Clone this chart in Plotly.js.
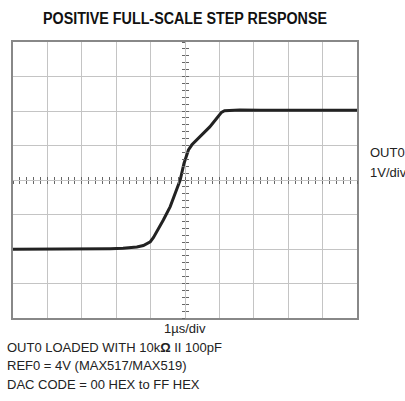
<!DOCTYPE html>
<html><head><meta charset="utf-8">
<script src="https://cdn.plot.ly/plotly-3.0.1.min.js"></script>
<style>html,body{margin:0;padding:0;background:#fff}#c{width:405px;height:401px}</style>
</head><body><div id="c"></div>
<script>
// time in divisions (1 µs/div), voltage in divisions (1 V/div), centre = 0
const timeDiv = [-5, -3.5, -2.5, -2.17, -1.8, -1.59, -1.4, -1.21, -1.1, -1.01, -0.92, -0.82, -0.63, -0.43, -0.24, -0.14, -0.03, 0.10, 0.2, 0.34, 0.52, 0.72, 0.9, 1.06, 1.15, 1.3, 1.59, 2.2, 3.5, 5];
const voltDiv = [-2.01, -2.01, -2.0, -1.99, -1.98, -1.96, -1.94, -1.90, -1.85, -1.79, -1.67, -1.50, -1.16, -0.77, -0.29, 0.0, 0.48, 0.87, 1.02, 1.16, 1.35, 1.54, 1.76, 1.96, 2.01, 2.02, 2.03, 2.02, 2.02, 2.02];
const titleText = "POSITIVE FULL-SCALE STEP RESPONSE";
const xLabel = "1µs/div";
const channelLabel = ["OUT0", "1V/div"];
const notes = ["OUT0 LOADED WITH 10k<b>Ω</b> II 100pF", "REF0 = 4V (MAX517/MAX519)", "DAC CODE = 00 HEX to FF HEX"];

const FONT = '"Liberation Sans Narrow", "Arial Narrow", "Liberation Sans", Arial, sans-serif';
const grid = '#c4c4c4';
const tickAxis = (extra) => Object.assign({
  range: [-5, 5], showgrid: false, zeroline: false, showline: false,
  showticklabels: false, tickmode: 'linear', tick0: 0, dtick: 0.2,
  ticklen: 3, tickwidth: 1, tickcolor: '#666', anchor: 'free', position: 0.5, fixedrange: true
}, extra);

const data = [{
  x: timeDiv, y: voltDiv, type: 'scatter', mode: 'lines',
  line: {color: '#222', width: 3, shape: 'linear'},
  hoverinfo: 'skip', showlegend: false
}];

const layout = {
  width: 405, height: 401,
  margin: {l: 12.5, r: 47.5, t: 42, b: 83},
  paper_bgcolor: '#fff', plot_bgcolor: '#fff',
  showlegend: false,
  xaxis: {range: [-5, 5], dtick: 1, tick0: 0, showgrid: true, gridcolor: grid, gridwidth: 1,
    zeroline: false, showticklabels: false, ticks: '', showline: true, mirror: true,
    linecolor: '#888', linewidth: 2, fixedrange: true},
  yaxis: {range: [-4, 4], dtick: 1, tick0: 0, showgrid: true, gridcolor: grid, gridwidth: 1,
    zeroline: false, showticklabels: false, ticks: '', showline: true, mirror: true,
    linecolor: '#888', linewidth: 2, fixedrange: true},
  xaxis2: tickAxis({overlaying: 'x', ticks: 'outside'}),
  xaxis3: tickAxis({overlaying: 'x', ticks: 'inside'}),
  yaxis2: tickAxis({overlaying: 'y', ticks: 'outside', range: [-4, 4]}),
  yaxis3: tickAxis({overlaying: 'y', ticks: 'inside', range: [-4, 4]}),
  annotations: [
    {text: '<b>' + titleText + '</b>', xref: 'paper', yref: 'paper', x: 0.5, y: 1, yshift: 24,
      xanchor: 'center', yanchor: 'middle', showarrow: false, font: {family: FONT, size: 16, color: '#111'}},
    {text: xLabel, xref: 'paper', yref: 'paper', x: 0.5, y: 0, yshift: -10,
      xanchor: 'center', yanchor: 'middle', showarrow: false, font: {family: FONT, size: 13, color: '#222'}},
    {text: channelLabel[0], xref: 'paper', yref: 'paper', x: 1, xshift: 11, y: 0.5, yshift: 28,
      xanchor: 'left', yanchor: 'middle', showarrow: false, font: {family: FONT, size: 13, color: '#222'}},
    {text: channelLabel[1], xref: 'paper', yref: 'paper', x: 1, xshift: 11, y: 0.5, yshift: 8,
      xanchor: 'left', yanchor: 'middle', showarrow: false, font: {family: FONT, size: 13, color: '#222'}}
  ].concat(notes.map((t, i) => ({
    text: t, xref: 'paper', yref: 'paper', x: 0, xshift: -8, y: 0, yshift: -29 - 18.5 * i,
    xanchor: 'left', yanchor: 'middle', showarrow: false, font: {family: FONT, size: 13, color: '#222'}
  })))
};

data.push({x: [0], y: [0], xaxis: 'x2', yaxis: 'y2', mode: 'markers', marker: {opacity: 0}, hoverinfo: 'skip', showlegend: false});
data.push({x: [0], y: [0], xaxis: 'x3', yaxis: 'y3', mode: 'markers', marker: {opacity: 0}, hoverinfo: 'skip', showlegend: false});

Plotly.newPlot('c', data, layout, {displayModeBar: false, staticPlot: true}).then(() => {
  // condense the bold title like the narrow face in the reference
  const t = document.querySelector('.annotation text');
  if (t) {
    const w = t.getComputedTextLength();
    if (w > 286) { t.setAttribute('textLength', 284); t.setAttribute('lengthAdjust', 'spacingAndGlyphs'); }
  }
});
</script>
</body></html>
